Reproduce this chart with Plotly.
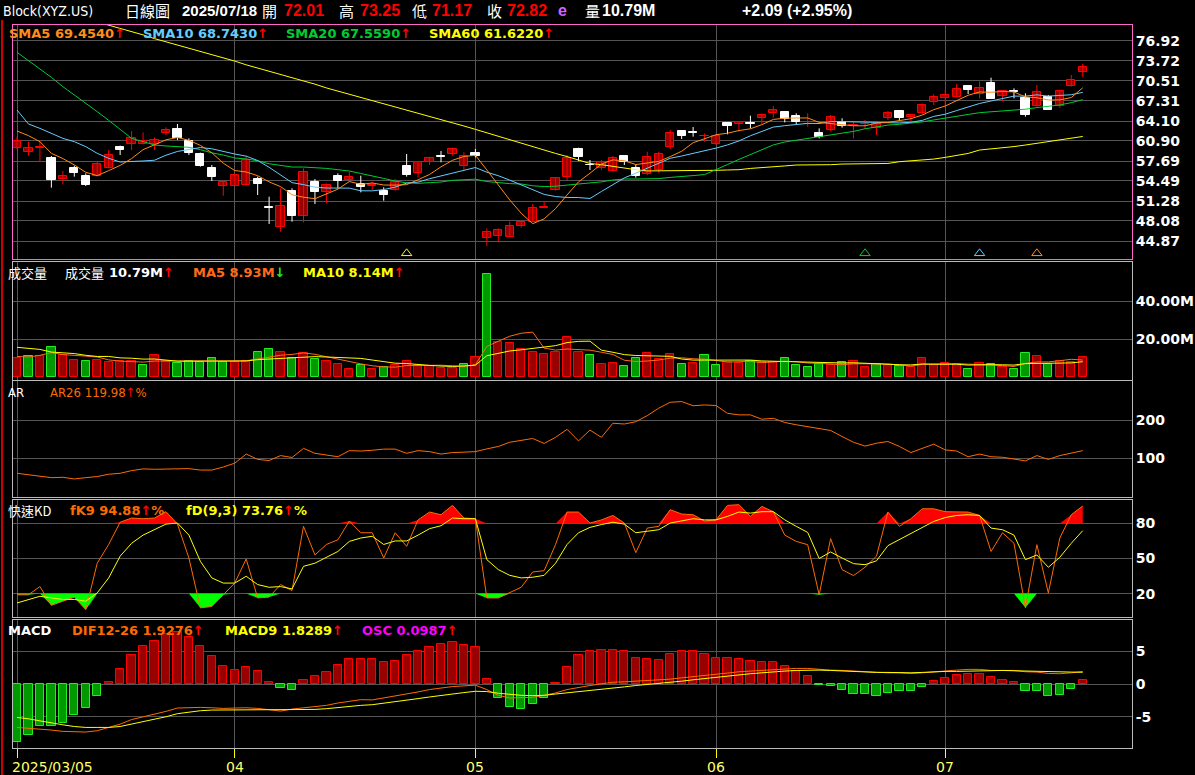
import pandas as pd
import plotly.graph_objects as go

# ---- data (index 0 = 2025/03/05 ... 93 = 2025/07/18)
opens = [59.72, 59.08, 59.76, 58.12, 54.75, 56.51, 55.28, 55.34, 56.62, 59.93,
         60.36, 60.41, 60.36, 62.23, 62.82, 60.89, 58.81, 56.51, 53.74, 53.74,
         53.84, 54.80, 50.25, 47.06, 52.93, 48.93, 54.32, 52.78, 55.28, 54.64,
         54.06, 53.72, 52.93, 52.99, 56.89, 55.71, 57.58, 58.40, 58.76, 56.94,
         59.03, 45.30, 45.72, 45.56, 47.33, 47.97, 50.16, 53.04, 55.18, 59.56,
         57.08, 56.51, 56.14, 58.49, 56.51, 55.55, 56.25, 59.99, 62.50, 62.25,
         61.64, 60.36, 63.73, 63.67, 63.65, 64.53, 65.33, 65.49, 64.90, 63.55,
         62.12, 62.66, 63.99, 63.30, 63.55, 62.92, 64.53, 65.70, 64.79, 65.33,
         67.09, 67.73, 67.99, 69.71, 68.37, 70.24, 68.16, 68.85, 67.84, 66.56,
         68.00, 66.50, 69.76, 72.01]
highs = [61.59, 60.79, 61.05, 58.49, 56.09, 56.94, 55.71, 57.58, 59.45, 60.15,
         62.50, 62.28, 61.48, 63.08, 63.62, 61.32, 59.03, 57.05, 54.64, 55.61,
         58.54, 55.18, 51.97, 53.31, 53.31, 56.51, 54.80, 54.11, 55.71, 55.98,
         55.34, 54.38, 53.47, 54.80, 58.81, 57.48, 58.38, 59.29, 59.82, 59.10,
         59.61, 46.90, 46.90, 47.97, 48.23, 50.80, 51.17, 55.07, 58.65, 59.82,
         57.85, 57.85, 58.49, 58.65, 57.05, 59.18, 59.18, 62.66, 62.50, 63.14,
         62.12, 62.00, 63.73, 64.10, 64.95, 65.33, 66.50, 65.70, 65.33, 65.33,
         62.92, 65.06, 64.53, 63.99, 64.26, 63.99, 65.70, 65.70, 65.17, 66.93,
         68.37, 69.07, 70.03, 69.71, 70.40, 71.04, 69.07, 69.33, 68.53, 69.87,
         68.26, 69.07, 71.47, 73.25]
lows = [59.61, 58.54, 57.58, 53.42, 53.95, 55.18, 53.68, 55.18, 56.51, 58.65,
        59.45, 60.36, 59.45, 61.86, 61.05, 58.65, 56.78, 54.48, 52.13, 53.74,
        53.74, 52.24, 47.59, 46.36, 47.97, 47.86, 50.80, 50.91, 53.31, 54.38,
        52.67, 53.04, 51.33, 52.93, 55.18, 55.02, 57.05, 57.48, 58.54, 56.25,
        58.27, 44.12, 44.87, 45.56, 47.01, 47.86, 50.16, 52.93, 54.64, 57.69,
        56.25, 56.25, 55.98, 57.05, 55.02, 55.45, 55.82, 59.61, 61.22, 61.59,
        60.79, 60.25, 61.96, 62.39, 62.92, 63.62, 64.63, 63.88, 63.62, 63.19,
        61.32, 62.50, 63.03, 61.32, 62.82, 61.86, 64.26, 64.10, 64.10, 65.17,
        66.66, 66.66, 67.84, 68.43, 67.73, 67.62, 67.30, 67.73, 64.79, 66.40,
        65.86, 66.23, 69.60, 71.17]
closes = [60.95, 59.72, 59.84, 54.64, 55.28, 55.82, 53.84, 57.16, 58.65, 59.45,
          61.32, 60.95, 61.05, 62.66, 61.32, 59.03, 56.89, 55.18, 54.27, 55.45,
          57.85, 53.95, 50.20, 50.48, 48.93, 55.87, 52.78, 53.84, 54.48, 55.07,
          53.58, 53.86, 52.24, 54.38, 55.45, 57.48, 58.12, 58.35, 59.61, 58.49,
          58.49, 46.36, 46.63, 47.27, 47.86, 50.10, 50.24, 54.91, 58.12, 58.38,
          57.00, 57.58, 58.22, 57.48, 55.34, 58.27, 58.76, 62.12, 61.75, 62.20,
          61.72, 61.70, 63.35, 63.88, 63.60, 65.06, 65.86, 64.37, 63.99, 63.65,
          61.48, 64.79, 63.35, 63.40, 63.65, 63.62, 65.33, 64.63, 65.06, 66.66,
          67.89, 68.26, 69.23, 69.07, 69.33, 67.62, 68.96, 68.80, 65.06, 68.69,
          65.86, 68.96, 70.73, 72.82]
volume_m = [10.2, 11.0, 11.2, 15.8, 11.6, 8.9, 8.4, 8.9, 8.1, 8.4,
            8.4, 6.3, 11.6, 8.6, 7.5, 8.8, 8.2, 10.3, 8.2, 8.1,
            8.6, 13.2, 15.1, 13.2, 10.2, 12.6, 9.5, 8.4, 7.0, 4.2,
            6.3, 4.6, 5.4, 6.3, 8.4, 6.3, 6.0, 4.9, 4.9, 6.8,
            10.5, 54.2, 18.6, 18.1, 14.7, 13.3, 12.3, 13.3, 21.0, 13.3,
            11.6, 6.8, 7.5, 5.8, 10.0, 12.8, 9.5, 12.3, 6.8, 7.5,
            11.6, 6.3, 8.1, 7.5, 8.6, 8.1, 8.1, 10.0, 6.3, 5.3,
            7.0, 6.7, 8.1, 8.6, 5.3, 6.8, 6.3, 5.8, 5.3, 10.2,
            6.3, 7.5, 6.8, 4.4, 7.5, 6.8, 5.4, 4.4, 12.8, 11.0,
            7.0, 8.6, 8.1, 10.79]

# moving-average values visible before enough days exist in the window
sma5_start = [62.5, 61.75, 60.79, 58.92]
sma10_start = [65.86, 63.62, 62.92, 62.12, 61.32, 60.79, 59.99, 58.92, 58.12]
sma20_start = [75.1, 73.8, 72.54, 71.1, 69.6, 68.3, 66.9, 65.6, 64.2, 62.8,
               61.32, 60.8, 60.25, 60.1, 60.0, 59.88, 59.5, 59.0, 58.65]
sma60 = [83.7, 83.2, 82.6, 82.1, 81.6, 81.0, 80.5, 80.0, 79.5, 78.9,
         78.4, 77.9, 77.3, 76.8, 76.3, 75.8, 75.2, 74.7, 74.2, 73.7,
         73.1, 72.6, 72.1, 71.5, 71.0, 70.5, 70.0, 69.4, 68.9, 68.4,
         67.9, 67.4, 66.9, 66.3, 65.8, 65.3, 64.8, 64.3, 63.8, 63.3,
         62.76, 62.2, 61.7, 61.1, 60.6, 60.0, 59.5, 58.9, 58.4, 57.9,
         57.3, 57.1, 56.8, 56.5, 56.3, 56.1, 56.1, 56.1, 56.1, 56.1,
         56.1, 56.2, 56.25, 56.3, 56.5, 56.6, 56.78, 56.9, 57.05, 57.05,
         57.05, 57.1, 57.2, 57.2, 57.2, 57.2, 57.3, 57.58, 57.7, 57.85,
         58.0, 58.27, 58.6, 58.9, 59.45, 59.6, 59.82, 60.0, 60.25, 60.5,
         60.79, 61.05, 61.32, 61.62]
vma5_start = [11.0, 10.7, 11.6, 13.0]
vma10_start = [15.8, 15.4, 14.7, 13.3, 13.0, 12.5, 11.6, 11.0, 11.0]

ar26 = [60.5, 57, 54, 49, 50, 45.6, 49, 52, 58, 60.5,
        67.5, 72, 71, 72, 73.7, 72.8, 69, 69, 77, 87,
        111, 97, 94, 107, 102, 126, 113, 109, 104, 120,
        119, 121, 124, 124, 113, 120, 117.5, 111, 115, 116,
        117.5, 124.6, 131, 142, 148, 152, 139, 155, 176, 145.6,
        174, 155, 192, 190, 196, 212, 231.6, 247, 249, 238,
        240, 238.6, 218, 214, 214, 202.6, 205, 194, 188, 183,
        179, 173, 157, 142, 132, 139.5, 144, 131, 115, 126,
        137, 122, 119, 104, 111, 104, 102.6, 98, 93, 107,
        97, 107, 113, 119.98]
fk9 = [19, 19, 26, 10, 13.5, 17, 6.3, 46, 62, 81,
       84.6, 84, 84.6, 90, 79.4, 50.4, 7.8, 9, 19, 29,
       49.6, 16.3, 17, 27.7, 22.6, 77.5, 53, 62, 66, 82,
       72, 72, 50.4, 72, 60.4, 83, 89.7, 87.4, 95.4, 84.6,
       84, 16.3, 16.3, 20.6, 25.4, 38.5, 39.6, 62, 89.7, 89.7,
       80.3, 83, 86.8, 80.3, 55, 76, 77.5, 91.7, 88, 87.4,
       82, 83, 95.4, 96, 86, 94.5, 90, 70, 64.6, 61.8,
       19, 67, 40.5, 35.4, 42.5, 52, 89.7, 77.5, 84, 92.5,
       92.5, 90, 89.7, 89.7, 86.8, 56, 72, 63, 8, 61.8,
       20.6, 67.5, 87.4, 94.88]
fd93 = [12, 15, 17.7, 16.3, 15, 15, 13.5, 20.6, 33.4, 52,
        63, 70, 74.6, 79.4, 80.3, 70, 47.6, 33.4, 29, 29,
        34.8, 27.7, 25.4, 26, 24, 43.3, 46, 51, 56, 64.6,
        67.5, 69, 62, 65, 65, 70, 75.5, 78, 84.6, 84,
        84, 49, 40.5, 35.6, 33.4, 34, 35.6, 46, 62, 72,
        76.6, 79, 81, 79.4, 72, 73.3, 74.6, 80.3, 82, 84,
        83, 83, 86, 89.7, 88.8, 90, 90, 83, 77.5, 72.3,
        50, 55.6, 50.4, 45.6, 44.7, 48, 61, 66, 71, 76.6,
        81.7, 85, 86.8, 87.4, 86.8, 76, 74.6, 70, 49, 53,
        42.5, 51, 63, 73.76]
dif = [-6.6, -6.7, -6.9, -7.0, -7.2, -7.3, -7.3, -7.1, -6.6, -6.1,
       -5.4, -5.0, -4.6, -4.15, -3.64, -3.54, -3.54, -3.6, -3.7, -3.64,
       -3.6, -3.7, -3.95, -4.1, -3.8, -3.64, -3.5, -3.23, -2.87, -2.6,
       -2.36, -2.4, -2.1, -1.85, -1.5, -1.18, -0.82, -0.56, -0.36, -0.26,
       -0.15, -0.82, -1.7, -2.1, -2.1, -2.0, -1.7, -1.33, -0.82, -0.46,
       -0.2, 0.05, 0.3, 0.36, 0.46, 0.56, 0.62, 0.77, 0.97, 1.18,
       1.38, 1.54, 1.7, 1.9, 2.0, 2.15, 2.3, 2.41, 2.41, 2.41,
       2.26, 2.15, 2.1, 2.0, 1.85, 1.74, 1.74, 1.74, 1.64, 1.74,
       1.9, 2.1, 2.15, 2.26, 2.26, 2.1, 2.1, 2.1, 1.9, 1.85,
       1.64, 1.6, 1.74, 1.9276]
macd9 = [-5.08, -5.28, -5.6, -5.95, -6.2, -6.46, -6.6, -6.6, -6.6, -6.46,
         -6.1, -5.8, -5.44, -4.97, -4.5, -4.26, -4.05, -3.95, -3.95, -3.9,
         -3.85, -3.85, -3.9, -3.95, -3.95, -3.9, -3.85, -3.74, -3.54, -3.38,
         -3.23, -3.13, -2.92, -2.72, -2.46, -2.2, -1.95, -1.7, -1.5, -1.28,
         -1.08, -1.13, -1.38, -1.59, -1.7, -1.74, -1.7, -1.5, -1.33, -1.18,
         -0.97, -0.77, -0.56, -0.41, -0.2, -0.05, 0.1, 0.26, 0.46, 0.67,
         0.87, 1.08, 1.23, 1.38, 1.6, 1.74, 1.9, 2.0, 2.1, 2.15,
         2.15, 2.1, 2.0, 1.9, 1.85, 1.8, 1.8, 1.74, 1.74, 1.8,
         1.9, 1.95, 1.95, 2.0, 2.0, 2.1, 2.1, 2.05, 2.0, 1.95,
         1.85, 1.85, 1.85, 1.8289]
osc = [-8.77, -7.74, -6.36, -6.36, -5.85, -4.67, -3.69, -1.85, 0.36, 2.31,
       4.46, 5.85, 6.6, 7.64, 7.9, 7.23, 5.85, 4.3, 2.77, 2.15,
       2.6, 2.0, 0.36, -0.62, -0.92, 0.67, 1.23, 1.9, 2.92, 3.85,
       3.85, 3.85, 3.44, 3.54, 4.46, 5.08, 5.69, 6.2, 6.5, 6.0,
       5.69, 0.77, -2.15, -3.54, -3.85, -3.08, -2.15, 0.15, 2.6, 4.46,
       5.08, 5.23, 5.23, 5.08, 4.05, 3.85, 3.7, 4.67, 5.08, 5.08,
       4.67, 4.05, 4.05, 3.85, 3.54, 3.44, 3.44, 2.77, 2.0, 1.23,
       -0.15, -0.3, -0.82, -1.44, -1.44, -1.74, -1.28, -0.97, -0.97, -0.36,
       0.46, 0.92, 1.38, 1.6, 1.6, 1.08, 0.62, 0.36, -1.08, -1.08,
       -1.74, -1.59, -0.67, 0.67]

tick_idx = [0, 19, 40, 61, 81]
tick_text = ["2025/03/05", "04", "05", "06", "07"]
price_ticks = [76.92, 73.72, 70.51, 67.31, 64.10, 60.90, 57.69, 54.49, 51.28, 48.08, 44.87]

# signal markers along the bottom of the price panel
signal_idx = [34, 74, 84, 89]
signal_col = ["#ffff00", "#00cc33", "#66ccff", "#ff8c1a"]

W, H = 1195, 775
RED, DRED, GRN, DGRN = "#ff0000", "#990000", "#22ee22", "#009900"

df = pd.DataFrame({"o": opens, "h": highs, "l": lows, "c": closes, "v": volume_m})
x = list(range(len(df)))


def ma(series, n, start):
    out = series.rolling(n).mean().tolist()
    out[:len(start)] = start
    return out


sma5 = ma(df["c"], 5, sma5_start)
sma10 = ma(df["c"], 10, sma10_start)
sma20 = ma(df["c"], 20, sma20_start)
vma5 = ma(df["v"], 5, vma5_start)
vma10 = ma(df["v"], 10, vma10_start)
up = [True] + [df["c"][i] >= df["c"][i - 1] for i in range(1, len(df))]


def fx(px):
    return px / W


def fy(py_):
    return 1 - py_ / H


panels = {1: (25, 259), 2: (262, 380), 3: (381, 497), 4: (500, 617), 5: (620, 748)}
xdom = [fx(13), fx(1132)]
xrange_ = [-0.35, 97.3]

fig = go.Figure()

# ---- price: wicks, then bodies drawn as bars
rise = [c >= o for o, c in zip(opens, closes)]
for flag, col in [(True, RED), (False, "#ffffff")]:
    wx, wy = [], []
    for i in x:
        if rise[i] == flag:
            wx += [i, i, None]
            wy += [lows[i], highs[i], None]
    fig.add_trace(go.Scatter(x=wx, y=wy, mode="lines", line=dict(color=col, width=1),
                             xaxis="x", yaxis="y", hoverinfo="skip"))
fig.add_trace(go.Bar(
    x=x, base=[min(o, c) for o, c in zip(opens, closes)],
    y=[max(abs(c - o), 0.1) for o, c in zip(opens, closes)], width=0.72,
    marker=dict(color=[DRED if r else "#ffffff" for r in rise],
                line=dict(color=[RED if r else "#ffffff" for r in rise], width=1)),
    xaxis="x", yaxis="y", hoverinfo="skip"))
for vals, col in [(sma60, "#ffff00"), (sma20, "#00cc33"), (sma10, "#66ccff"), (sma5, "#ff8c1a")]:
    fig.add_trace(go.Scatter(x=x, y=vals, mode="lines", line=dict(color=col, width=1),
                             xaxis="x", yaxis="y", hoverinfo="skip"))
fig.add_trace(go.Scatter(x=signal_idx, y=[42.9] * len(signal_idx), mode="markers",
                         marker=dict(symbol="triangle-up-open", size=9, color=signal_col, line=dict(width=1)),
                         xaxis="x", yaxis="y", hoverinfo="skip"))

# ---- volume
fig.add_trace(go.Bar(x=x, y=volume_m, width=0.72, xaxis="x2", yaxis="y2",
                     marker=dict(color=[DRED if u else DGRN for u in up],
                                 line=dict(color=[RED if u else GRN for u in up], width=1)),
                     hoverinfo="skip"))
fig.add_trace(go.Scatter(x=x, y=vma5, mode="lines", line=dict(color="#ff6a1a", width=1),
                         xaxis="x2", yaxis="y2", hoverinfo="skip"))
fig.add_trace(go.Scatter(x=x, y=vma10, mode="lines", line=dict(color="#ffff00", width=1),
                         xaxis="x2", yaxis="y2", hoverinfo="skip"))

# ---- AR
fig.add_trace(go.Scatter(x=x, y=ar26, mode="lines", line=dict(color="#ff6a00", width=1),
                         xaxis="x3", yaxis="y3", hoverinfo="skip"))

# ---- fast KD with fills beyond 80 / 20
fig.add_trace(go.Scatter(x=x, y=[80] * len(x), mode="lines", line=dict(width=0),
                         xaxis="x4", yaxis="y4", hoverinfo="skip"))
fig.add_trace(go.Scatter(x=x, y=[max(k, 80) for k in fk9], mode="lines", line=dict(width=0),
                         fill="tonexty", fillcolor=RED, xaxis="x4", yaxis="y4", hoverinfo="skip"))
fig.add_trace(go.Scatter(x=x, y=[20] * len(x), mode="lines", line=dict(width=0),
                         xaxis="x4", yaxis="y4", hoverinfo="skip"))
fig.add_trace(go.Scatter(x=x, y=[min(k, 20) for k in fk9], mode="lines", line=dict(width=0),
                         fill="tonexty", fillcolor="#00ff00", xaxis="x4", yaxis="y4", hoverinfo="skip"))
fig.add_trace(go.Scatter(x=x, y=fk9, mode="lines", line=dict(color="#ff6a00", width=1),
                         xaxis="x4", yaxis="y4", hoverinfo="skip"))
fig.add_trace(go.Scatter(x=x, y=fd93, mode="lines", line=dict(color="#ffff00", width=1),
                         xaxis="x4", yaxis="y4", hoverinfo="skip"))

# ---- MACD
fig.add_trace(go.Bar(x=x, y=osc, width=0.72, xaxis="x5", yaxis="y5",
                     marker=dict(color=[DRED if v >= 0 else DGRN for v in osc],
                                 line=dict(color=[RED if v >= 0 else GRN for v in osc], width=1)),
                     hoverinfo="skip"))
fig.add_trace(go.Scatter(x=x, y=dif, mode="lines", line=dict(color="#ff6a00", width=1),
                         xaxis="x5", yaxis="y5", hoverinfo="skip"))
fig.add_trace(go.Scatter(x=x, y=macd9, mode="lines", line=dict(color="#ffff00", width=1),
                         xaxis="x5", yaxis="y5", hoverinfo="skip"))

grid = "#555555"
tickfont = dict(family="DejaVu Sans", size=14, color="#ffffff")


def bold(vals):
    return [f"<b>{v}</b>" for v in vals]


yspec = {
    1: dict(range=[41.99, 79.48], tickvals=price_ticks, ticktext=bold(f"{v:.2f}" for v in price_ticks)),
    2: dict(range=[-1.4, 60.7], tickvals=[20, 40], ticktext=bold(["20.00M", "40.00M"])),
    3: dict(range=[-1.8, 303], tickvals=[100, 200], ticktext=bold(["100", "200"])),
    4: dict(range=[0, 100], tickvals=[20, 50, 80], ticktext=bold(["20", "50", "80"])),
    5: dict(range=[-9.74, 9.8], tickvals=[-5, 0, 5], ticktext=bold(["-5", "0", "5"])),
}
layout = dict(width=W, height=H, paper_bgcolor="#000000", plot_bgcolor="#000000",
              margin=dict(l=0, r=0, t=0, b=0), showlegend=False, bargap=0,
              barmode="overlay")
for n in range(1, 6):
    sfx = "" if n == 1 else str(n)
    border = "#ff66cc" if n == 1 else "#bbbbbb"
    layout["xaxis" + sfx] = dict(
        domain=xdom, range=xrange_, anchor="y" + sfx, tickvals=tick_idx,
        ticktext=[""] * 5, showgrid=True, gridcolor=grid,
        zeroline=False, showline=True, linecolor=border, mirror=True, automargin=False,
        ticks="outside" if n == 5 else "", tickcolor="#ffff00", ticklen=9,
        rangeslider=dict(visible=False), fixedrange=True)
    layout["yaxis" + sfx] = dict(
        domain=[fy(panels[n][1]), fy(panels[n][0])], anchor="x" + sfx, side="right",
        showgrid=True, gridcolor=grid, zeroline=False, showline=True, linecolor=border,
        mirror=True, automargin=False, tickfont=tickfont, ticks="", fixedrange=True,
        **yspec[n])
fig.update_layout(**layout)

# month labels under the MACD panel
for i, t in zip(tick_idx, tick_text):
    fig.add_annotation(x=i, y=fy(767), xref="x5", yref="paper", text=t, showarrow=False,
                       xanchor="left" if i == 0 else "center", xshift=-7 if i == 0 else 0,
                       yanchor="middle", font=dict(family="DejaVu Sans", size=14, color="#ffff66"))


def label(px, py_, parts, size=13, bold_=True, family="DejaVu Sans, Noto Sans CJK TC"):
    text = "".join(f"<span style='color:{c}'>{t}</span>" for t, c in parts)
    if bold_:
        text = "<b>" + text + "</b>"
    fig.add_annotation(x=fx(px), y=fy(py_), xref="paper", yref="paper", text=text,
                       showarrow=False, xanchor="left", yanchor="middle",
                       font=dict(family=family, size=size))


UPA, DNA = ("↑", RED), ("↓", "#22ee22")
W_ = "#ffffff"
CJK = "Noto Sans CJK TC"
NUM = "Liberation Sans"
label(1, 11, [("Block(XYZ.US)", W_)], size=14, bold_=False, family="Liberation Sans Narrow, DejaVu Sans Condensed")
label(123, 11, [("日線圖", W_)], size=15, bold_=False, family=CJK)
label(180, 11, [("2025/07/18", W_)], size=15, family=NUM)
header = [(260, "開", W_), (282, "72.01", RED), (337, "高", W_), (358, "73.25", RED),
          (410, "低", W_), (430, "71.17", RED), (485, "收", W_), (505, "72.82", RED),
          (556, "e", "#cc66ff"), (583, "量", W_), (600, "10.79M", W_),
          (740, "+2.09 (+2.95%)", W_)]
for px, t, c in header:
    cjk = t in "開高低收量"
    label(px, 11, [(t, c)], size=15 if cjk else 16, bold_=not cjk, family=CJK if cjk else NUM)

label(7, 34, [("SMA5 69.4540", "#ff8c1a"), UPA])
label(141, 34, [("SMA10 68.7430", "#66ccff"), UPA])
label(284, 34, [("SMA20 67.5590", "#00cc33"), UPA])
label(427, 34, [("SMA60 61.6220", "#ffff00"), UPA])

label(6, 272, [("成交量", W_)], bold_=False, family=CJK)
label(63, 272, [("成交量 ", W_)], bold_=False, family=CJK)
label(107, 272, [("10.79M", W_), UPA])
label(191, 272, [("MA5 8.93M", "#ff6a1a"), DNA])
label(301, 272, [("MA10 8.14M", "#ffff00"), UPA])

label(6, 392, [("AR", W_)], bold_=False, family="DejaVu Sans Condensed")
label(48, 392, [("AR26 119.98", "#ff6a00"), UPA, ("%", "#ff6a00")], bold_=False,
      family="DejaVu Sans Condensed")

label(6, 511, [("快速KD", W_)], bold_=False, family=CJK)
label(68, 511, [("fK9 94.88", "#ff6a00"), UPA, ("%", "#ff6a00")])
label(184, 511, [("fD(9,3) 73.76", "#ffff00"), UPA, ("%", "#ffff00")])

label(6, 630, [("MACD", W_)])
label(70, 630, [("DIF12-26 1.9276", "#ff6a00"), UPA])
label(223, 630, [("MACD9 1.8289", "#ffff00"), UPA])
label(360, 630, [("OSC 0.0987", "#ff00ff"), UPA])

fig.add_shape(type="line", xref="paper", yref="paper", x0=fx(2), x1=fx(2), y0=0, y1=fy(20),
              line=dict(color="#cc0000", width=2))

fig.write_html("out.html", config={"displayModeBar": False},
               post_script="document.body.style.margin='0';document.body.style.overflow='hidden';")
